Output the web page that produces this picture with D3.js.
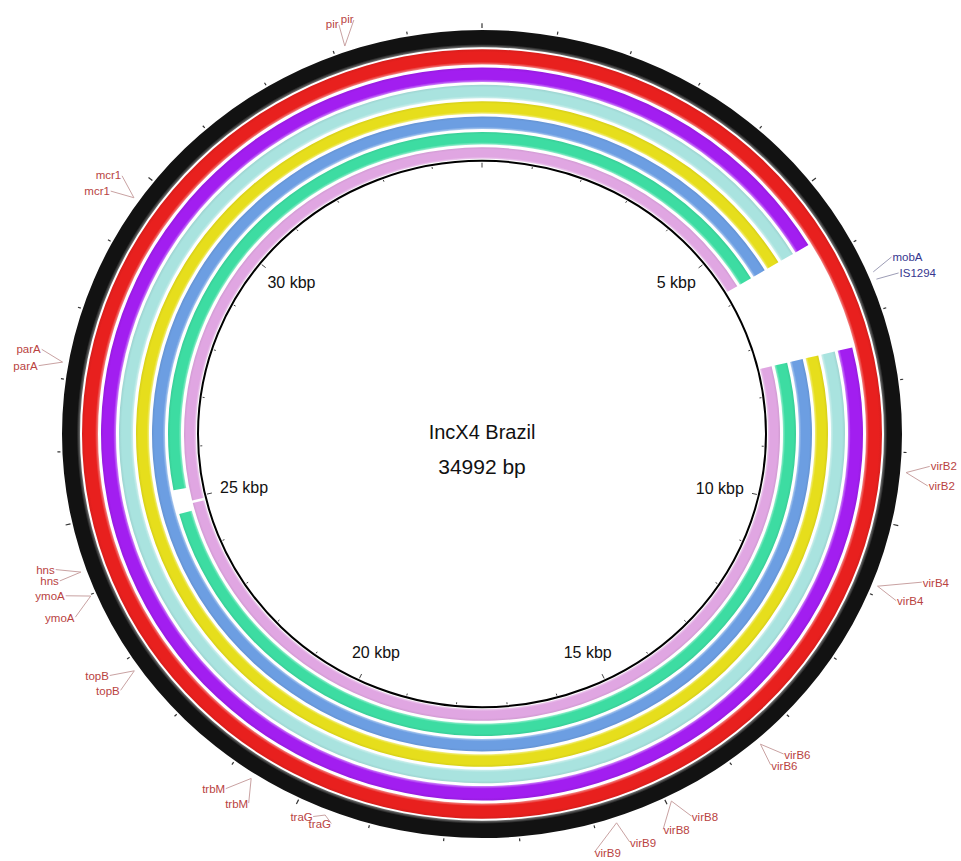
<!DOCTYPE html>
<html>
<head>
<meta charset="utf-8">
<script src="https://cdn.jsdelivr.net/npm/d3@7"></script>
<style>
  html, body { margin: 0; background: #fff; }
  svg { display: block; }
</style>
</head>
<body>
<script>
// ---- data -------------------------------------------------------------
const genomeLength = 34992;
const plasmidName = "IncX4 Brazil";
const tickKbp = [5, 10, 15, 20, 25, 30];

// comparison rings, outermost first; each lists the regions (bp) with no hit
const ringKeys = ["ring1", "ring2", "ring3", "ring4", "ring5", "ring6", "ring7", "ring8"];
const ringGaps = [
  [],
  [],
  [[5730, 7420]],
  [[5730, 7420]],
  [[5730, 7420]],
  [[5730, 7420]],
  [[5730, 7420], [24750, 25200]],
  [[5730, 7420], [24890, 24940]]
];

// annotated genes (bp position of the feature)
const geneNames = ["pir", "mcr1", "parA", "hns", "ymoA", "topB", "trbM", "traG",
                   "virB9", "virB8", "virB6", "virB4", "virB2", "mobA", "IS1294"];
const genePos   = [33166, 29666, 27226, 24330, 23980, 22813, 20685, 19596,
                   15706, 14930, 13529, 10867, 9273, 6483, 6590];
const geneGroup = ["a", "a", "a", "a", "a", "a", "a", "a",
                   "a", "a", "a", "a", "a", "b", "b"];

// label entries: which gene, where (bp) the label sits, and its stacking tier
const labelGene = ["pir", "pir", "mcr1", "mcr1", "parA", "parA", "hns", "hns",
                   "ymoA", "ymoA", "topB", "topB", "trbM", "trbM", "traG", "traG",
                   "virB9", "virB9", "virB8", "virB8", "virB6", "virB6",
                   "virB4", "virB4", "virB2", "virB2", "mobA", "IS1294"];
const labelPos  = [33185, 33380, 29812, 29570, 27343, 27129, 24466, 24311,
                   24106, 23805, 22940, 22706, 20879, 20539, 19732, 19480,
                   16087, 15630, 14794, 15183, 13394, 13608,
                   10624, 10955, 9166, 9419, 6396, 6620];
const labelTier = [0, 0, 0, 0, 0, 0, 0, 0,
                   0, 0, 0, 0, 0, 0, -1, -1,
                   0, 0, 0, 0, 0, 0,
                   1, 0, 0, 0, 0, 0];

// ---- layout -----------------------------------------------------------
const W = 961, H = 861;
const cx = 482, cy = 434, ky = 0.962;
const ringColors = ["#121212", "#e8201e", "#a21ef0", "#a9e3df", "#e6de1c",
                    "#6c9ee2", "#3ddca2", "#e0a6e2"];
const ringOuter = [420, 400, 381, 363, 346, 330, 314, 298];
const ringInner = [402, 384, 366, 349, 333, 317, 301, 286];
const backboneR = 284;

const svg = d3.select("body").append("svg")
  .attr("width", W).attr("height", H)
  .style("font-family", "'Liberation Sans', Arial, sans-serif");

const angle = d3.scaleLinear().domain([0, genomeLength]).range([0, 2 * Math.PI]);
const polar = (bp, r) => [cx + r * Math.sin(angle(bp)), cy - r * ky * Math.cos(angle(bp))];

const defs = svg.append("defs");
const plot = svg.append("g").attr("transform", `translate(${cx},${cy}) scale(1,${ky})`);

// bevelled ring shading: thin highlight on the inner edge, slight shade outside
ringKeys.forEach((key, i) => {
  const c = d3.color(ringColors[i]);
  const light = d3.interpolateRgb(c, "#ffffff")(i === 0 ? 0.4 : 0.45);
  const dark = i === 0 ? c : c.darker(0.2);
  const inner = ringInner[i] / ringOuter[i];
  const w = 1 - inner;
  const grad = defs.append("radialGradient")
    .attr("id", "shade-" + key)
    .attr("gradientUnits", "userSpaceOnUse")
    .attr("cx", 0).attr("cy", 0).attr("r", ringOuter[i]);
  grad.append("stop").attr("offset", inner).attr("stop-color", light);
  grad.append("stop").attr("offset", inner + w * 0.18).attr("stop-color", c.formatHex());
  grad.append("stop").attr("offset", inner + w * 0.8).attr("stop-color", c.formatHex());
  grad.append("stop").attr("offset", 1).attr("stop-color", dark.formatHex());
});

// segments with hits = complement of gaps
function segmentsFor(gaps) {
  const segs = [];
  let start = 0;
  gaps.slice().sort((a, b) => a[0] - b[0]).forEach(([s, e]) => {
    if (s > start) segs.push([start, s]);
    start = e;
  });
  if (start < genomeLength) segs.push([start, genomeLength]);
  return segs;
}

const arc = d3.arc();
ringKeys.forEach((key, i) => {
  plot.append("g").attr("class", key)
    .selectAll("path")
    .data(segmentsFor(ringGaps[i]))
    .join("path")
    .attr("d", d => arc({
      innerRadius: ringInner[i], outerRadius: ringOuter[i],
      startAngle: angle(d[0]), endAngle: angle(d[1])
    }))
    .attr("fill", `url(#shade-${key})`);
});

// backbone circle
plot.append("circle")
  .attr("r", backboneR)
  .attr("fill", "none")
  .attr("stroke", "#000")
  .attr("stroke-width", 2)
  .attr("vector-effect", "non-scaling-stroke");

// ticks: every kbp outside the rings and inside the backbone
const kbpTicks = d3.range(0, Math.floor(genomeLength / 1000) + 1).map(k => k * 1000);
svg.append("g").selectAll("line")
  .data(kbpTicks)
  .join("line")
  .each(function (bp) {
    const major = bp % 5000 === 0;
    const [x1, y1] = polar(bp, 422);
    const [x2, y2] = polar(bp, major ? 427 : 425);
    d3.select(this).attr("x1", x1).attr("y1", y1).attr("x2", x2).attr("y2", y2);
  })
  .attr("stroke", "#333").attr("stroke-width", 1.2);

svg.append("g").selectAll("line")
  .data(kbpTicks)
  .join("line")
  .each(function (bp) {
    const major = bp % 5000 === 0;
    const [x1, y1] = polar(bp, backboneR - 2);
    const [x2, y2] = polar(bp, major ? backboneR - 7 : backboneR - 4);
    d3.select(this).attr("x1", x1).attr("y1", y1).attr("x2", x2).attr("y2", y2);
  })
  .attr("stroke", "#444").attr("stroke-width", 1);

// kbp labels: anchored inside the backbone, slid sideways by the sine of the angle
const tickLabels = svg.append("g").selectAll("text")
  .data(tickKbp)
  .join("text")
  .attr("font-size", 16)
  .attr("fill", "#111")
  .attr("dy", "0.35em")
  .text(k => `${k} kbp`);
tickLabels.each(function (k) {
  const bp = k * 1000;
  const a = angle(bp);
  const [px, py] = polar(bp, 268);
  const w = this.getComputedTextLength();
  const f = (1 + Math.sin(a)) / 2;
  d3.select(this).attr("x", px - f * w).attr("y", py + Math.cos(a) * 15);
});

// centre title
svg.append("text")
  .attr("x", cx).attr("y", cy + 5)
  .attr("text-anchor", "middle").attr("font-size", 20).attr("fill", "#111")
  .text(plasmidName);
svg.append("text")
  .attr("x", cx).attr("y", cy + 40)
  .attr("text-anchor", "middle").attr("font-size", 21).attr("fill", "#111")
  .text(`${genomeLength} bp`);

// gene labels with leader lines
const groupText = { a: "#b9433f", b: "#36368f" };
const groupLine = { a: "#c9a2a2", b: "#9d9db6" };
const labels = labelGene.map((g, i) => {
  const gi = geneNames.indexOf(g);
  return { name: g, gene: genePos[gi], grp: geneGroup[gi], pos: labelPos[i], tier: labelTier[i] };
});
const labelR = t => 450 + t * 17;

const lg = svg.append("g").attr("class", "gene-labels");
lg.selectAll("line")
  .data(labels)
  .join("line")
  .attr("x1", d => polar(d.gene, 426)[0])
  .attr("y1", d => polar(d.gene, 426)[1])
  .attr("x2", d => polar(d.pos, labelR(d.tier) - 1)[0])
  .attr("y2", d => polar(d.pos, labelR(d.tier) - 1)[1])
  .attr("stroke", d => groupLine[d.grp])
  .attr("stroke-width", 1);

lg.selectAll("text")
  .data(labels)
  .join("text")
  .attr("x", d => polar(d.pos, labelR(d.tier))[0])
  .attr("y", d => polar(d.pos, labelR(d.tier))[1])
  .attr("dy", "0.35em")
  .attr("text-anchor", d => Math.sin(angle(d.pos)) >= 0 ? "start" : "end")
  .attr("font-size", 11.5)
  .attr("fill", d => groupText[d.grp])
  .text(d => d.name);
</script>
</body>
</html>
